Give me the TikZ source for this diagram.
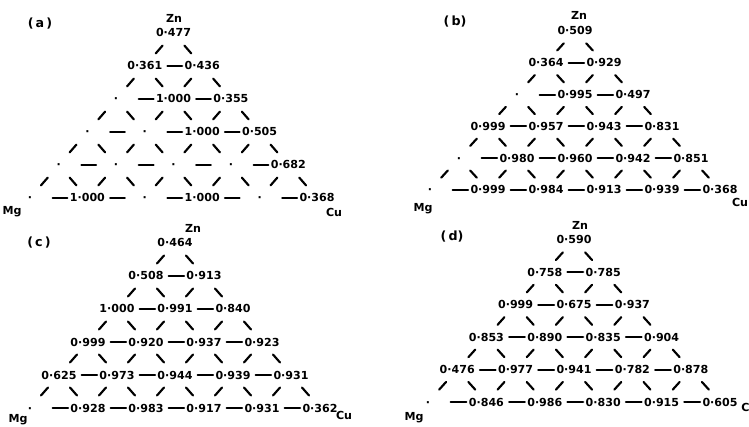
\documentclass[tikz,border=0pt]{standalone}
\usepackage{fontspec}
\setmainfont{DejaVu Sans}
\newcommand\tripanel[6]{%
  \foreach \vals [count=\r] in {#6} {
    \foreach \v [count=\j] in \vals {
      \node[val] (#1-\r-\j) at ({#2+(\j-(\r+1)/2)*#3},{#4+(\r-1)*#5}) {\v};
    }
  }
  \foreach \r in {2,...,6} {
    \pgfmathtruncatemacro\rp{\r-1}
    \foreach \j in {2,...,\r} {
      \pgfmathtruncatemacro\jm{\j-1}
      \draw[hlink] (#1-\r-\jm.center) -- (#1-\r-\j.center);
      \draw[dlink] (#1-\r-\jm.center) -- (#1-\rp-\jm.center);
      \draw[dlink] (#1-\rp-\jm.center) -- (#1-\r-\j.center);
    }
  }
}
\begin{document}
\begin{tikzpicture}[x=0.75pt,y=-0.75pt,
  val/.style={font=\fontsize{8.3}{10}\selectfont\bfseries, inner sep=0pt, text height=6pt, text depth=0pt},
  lbl/.style={font=\fontsize{8.3}{10}\selectfont\bfseries, inner sep=0pt},
  plbl/.style={font=\fontsize{9.5}{11}\selectfont\bfseries, inner sep=0pt},
  link/.style={line width=1.6pt, line cap=round},
  hlink/.style={link, shorten <=17pt, shorten >=15pt},
  dlink/.style={link, shorten <=12.5pt, shorten >=12.5pt}]
\useasboundingbox (0,0) rectangle (749,427);
% (a)
\tripanel{a}{173.5}{57.4}{33}{33}{{0·477},{0·361,0·436},{·,1·000,0·355},{·,·,1·000,0·505},{·,·,·,·,0·682},{·,1·000,·,1·000,·,0·368}}
\node[plbl] (a-tag) at (40,24) {(\,a\,)};
\node[lbl] (a-zn) at (174,18) {Zn};
\node[lbl] (a-mg) at (12,212) {Mg};
\node[lbl] (a-cu) at (334,212) {Cu};
% (b)
\tripanel{b}{575}{58}{31}{31.8}{{0·509},{0·364,0·929},{·,0·995,0·497},{0·999,0·957,0·943,0·831},{·,0·980,0·960,0·942,0·851},{·,0·999,0·984,0·913,0·939,0·368}}
\node[plbl] (b-tag) at (455,22) {(\,b)};
\node[lbl] (b-zn) at (579,15) {Zn};
\node[lbl] (b-mg) at (423,209) {Mg};
\node[lbl] (b-cu) at (740,202) {Cu};
% (c)
\tripanel{c}{175}{58}{243}{33}{{0·464},{0·508,0·913},{1·000,0·991,0·840},{0·999,0·920,0·937,0·923},{0·625,0·973,0·944,0·939,0·931},{·,0·928,0·983,0·917,0·931,0·362}}
\node[plbl] (c-tag) at (39,243) {(\,c\,)};
\node[lbl] (c-zn) at (193,228) {Zn};
\node[lbl] (c-mg) at (18,420) {Mg};
\node[lbl] (c-cu) at (344,415) {Cu};
% (d)
\tripanel{d}{574}{58.4}{240}{32.4}{{0·590},{0·758,0·785},{0·999,0·675,0·937},{0·853,0·890,0·835,0·904},{0·476,0·977,0·941,0·782,0·878},{·,0·846,0·986,0·830,0·915,0·605}}
\node[plbl] (d-tag) at (452,237) {(\,d)};
\node[lbl] (d-zn) at (580,225) {Zn};
\node[lbl] (d-mg) at (414,418) {Mg};
\node[lbl,anchor=west] (d-cu) at (741,407) {C};
\end{tikzpicture}
\end{document}
